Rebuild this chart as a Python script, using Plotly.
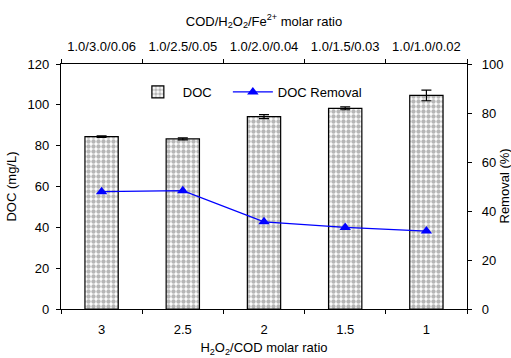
import plotly.graph_objects as go

categories = ["3", "2.5", "2", "1.5", "1"]
top_labels = ["1.0/3.0/0.06", "1.0/2.5/0.05", "1.0/2.0/0.04", "1.0/1.5/0.03", "1.0/1.0/0.02"]
doc = [84.4, 83.3, 94.2, 98.3, 104.6]
doc_err = [0.4, 0.5, 1.0, 0.7, 2.6]
removal = [47.9, 48.3, 35.6, 33.3, 31.8]

FONT = "Liberation Sans, Arial, sans-serif"
FS = 13

fig = go.Figure()
fig.add_trace(go.Bar(
    x=categories, y=doc, name="DOC", legend="legend",
    marker=dict(color="white", line=dict(color="black", width=1.2),
                pattern=dict(shape=".", fgcolor="#6e6e6e", bgcolor="white", size=5, solidity=0.6)),
    error_y=dict(type="data", array=doc_err, color="black", thickness=1.2, width=5),
))
fig.add_trace(go.Scatter(
    x=categories, y=removal, name="DOC Removal", yaxis="y2", legend="legend2",
    mode="lines+markers", line=dict(color="#0000ff", width=1.3),
    marker=dict(symbol="triangle-up", size=10, color="#0000ff"),
))
fig.add_trace(go.Scatter(x=top_labels, y=[0]*5, xaxis="x2", yaxis="y",
                         mode="markers", marker=dict(opacity=0), showlegend=False, hoverinfo="skip"))

leg_common = dict(orientation="h", yanchor="middle", xanchor="left",
                  bgcolor="rgba(0,0,0,0)", font=dict(size=FS), itemwidth=40)

fig.update_layout(
    width=511, height=358,
    margin=dict(l=61, r=44, t=64, b=49, autoexpand=False),
    paper_bgcolor="white", plot_bgcolor="white",
    font=dict(family=FONT, size=FS, color="black"),
    bargap=0.59,
    showlegend=True,
    legend=dict(x=0.177, y=0.886, **leg_common),
    legend2=dict(x=0.411, y=0.886, **leg_common),
    xaxis=dict(type="category", categoryorder="array", categoryarray=categories,
               range=[-0.5, 4.5], showline=True, linecolor="black", linewidth=1.2,
               ticks="outside", ticklen=4, tickcolor="black", tickson="boundaries",
               ticklabelstandoff=8, tickangle=0,
               showgrid=False, zeroline=False,
               title=dict(text="H<sub>2</sub>O<sub>2</sub>/COD molar ratio", standoff=7, font=dict(size=FS))),
    xaxis2=dict(type="category", categoryorder="array", categoryarray=top_labels,
                range=[-0.5, 4.5], overlaying="x", side="top", anchor="y",
                showline=True, linecolor="black", linewidth=1.2,
                ticks="outside", ticklen=4, tickcolor="black", tickson="boundaries",
                ticklabelstandoff=7, tickangle=0,
                showgrid=False, zeroline=False,
                title=dict(text="COD/H<sub>2</sub>O<sub>2</sub>/Fe<sup>2+</sup> molar ratio", standoff=9, font=dict(size=FS))),
    yaxis=dict(range=[0, 120], dtick=20, showline=True, linecolor="black", linewidth=1.2,
               ticks="outside", ticklen=4, tickcolor="black", showgrid=False, zeroline=False,
               ticklabelstandoff=4,
               title=dict(text="DOC (mg/L)", standoff=8, font=dict(size=FS))),
    yaxis2=dict(range=[0, 100], dtick=20, overlaying="y", side="right", anchor="x",
                showline=True, linecolor="black", linewidth=1.2,
                ticks="outside", ticklen=4, tickcolor="black", showgrid=False, zeroline=False,
                ticklabelstandoff=7),
    annotations=[dict(text="Removal (%)", xref="paper", yref="paper", x=1, y=0.5,
                      xanchor="center", yanchor="middle", xshift=37, textangle=-90,
                      showarrow=False, font=dict(size=FS, family=FONT, color="black"))],
)

fig.write_html("out.html")
